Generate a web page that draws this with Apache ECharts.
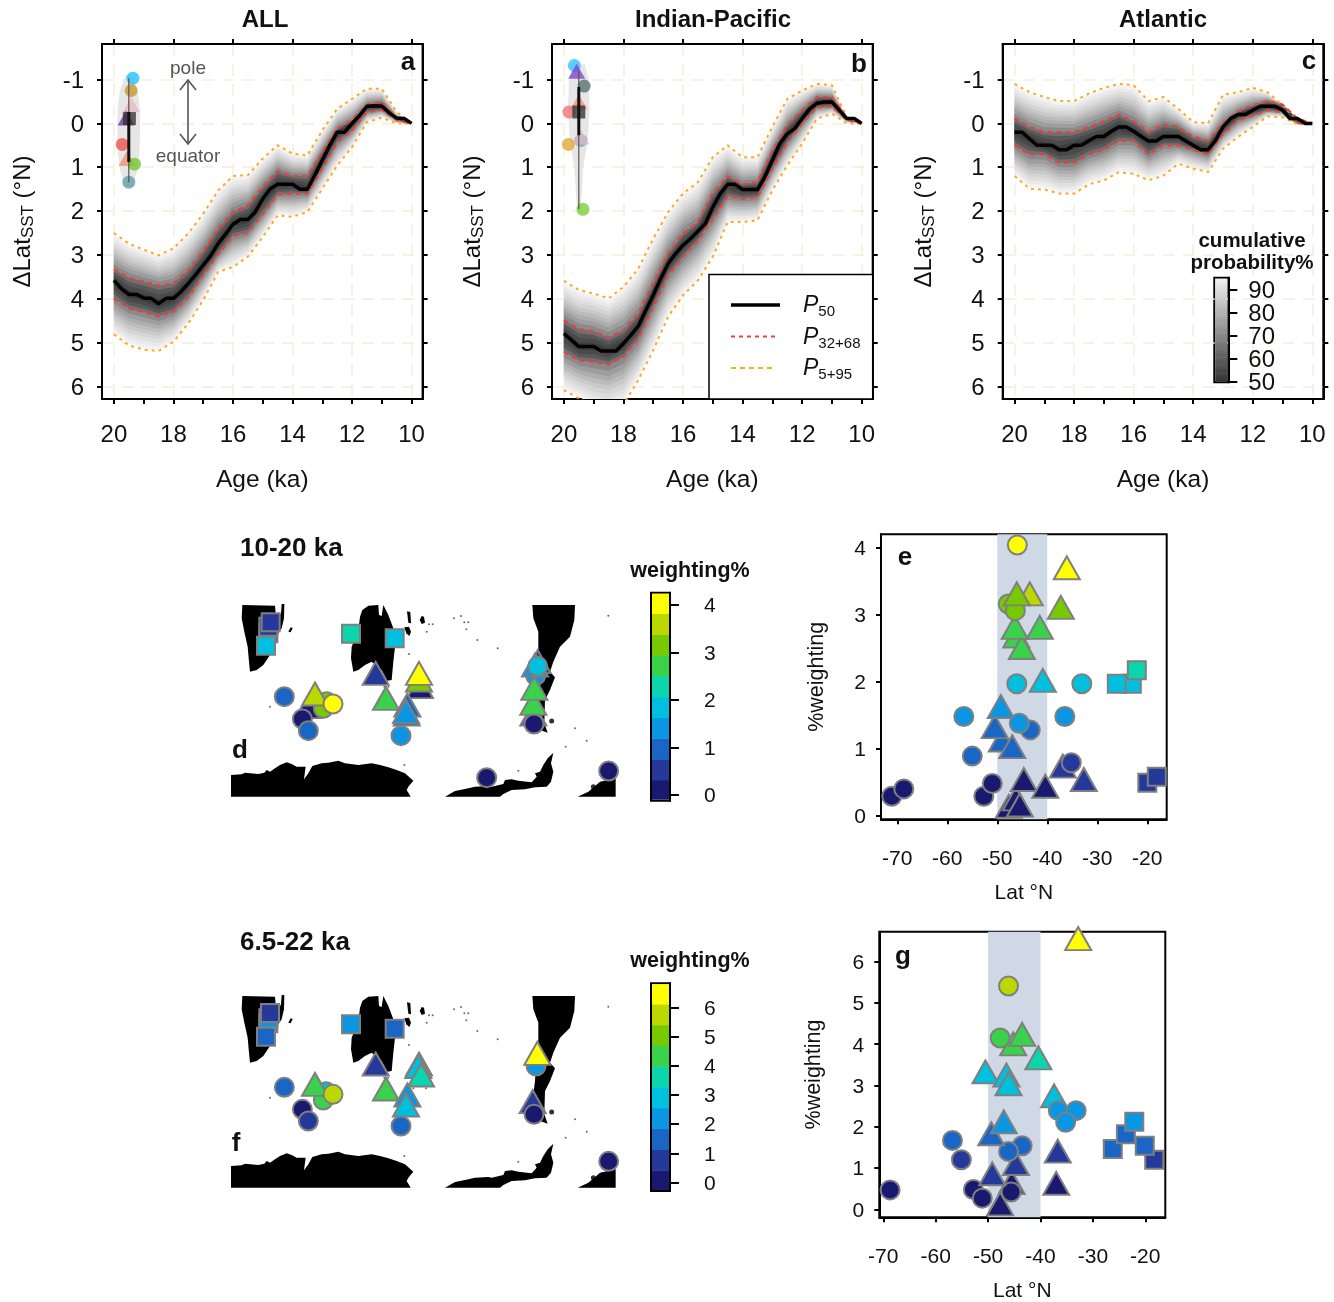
<!DOCTYPE html>
<html>
<head>
<meta charset="utf-8">
<style>
  html, body { margin: 0; padding: 0; background: #fff; }
  #chart { width: 1334px; height: 1302px; }
</style>
<script src="https://cdn.jsdelivr.net/npm/echarts@6/dist/echarts.min.js"></script>
</head>
<body>
<div id="chart"></div>
<script>
const FONT = '"Liberation Sans", Arial, sans-serif';
const INK = '#111';

const agesMedian = [20,19.75,19.5,19.25,19,18.75,18.5,18.25,18,17.75,17.5,17.25,17,16.75,16.5,16.25,16,15.75,15.5,15.25,15,14.75,14.5,14.25,14,13.75,13.5,13.25,13,12.75,12.5,12.25,12,11.75,11.5,11.25,11,10.75,10.5,10.25,10];
const agesBand = [20,19.5,19,18.5,18,17.5,17,16.5,16,15.5,15,14.5,14,13.5,13,12.5,12,11.5,11,10.5,10];

// panel a (ALL)
const aP50 = [3.58,3.77,3.9,3.9,3.98,3.99,4.11,3.99,3.99,3.84,3.65,3.45,3.23,3.02,2.74,2.53,2.3,2.19,2.19,2.02,1.72,1.49,1.39,1.39,1.39,1.5,1.5,1.18,0.84,0.5,0.2,0.2,0,-0.18,-0.39,-0.4,-0.39,-0.24,-0.12,-0.11,0];
const aP68 = [3.33,3.52,3.61,3.7,3.65,3.35,2.91,2.4,2.02,1.87,1.45,1.09,1.2,1.2,0.65,0.12,-0.07,-0.43,-0.49,-0.13,0];
const aP32 = [3.99,4.22,4.3,4.4,4.3,3.96,3.46,2.98,2.57,2.49,2.06,1.62,1.6,1.6,1.03,0.43,0.16,-0.26,-0.31,-0.07,0];
const aP95 = [2.5,2.74,2.88,3.01,2.85,2.51,2.06,1.53,1.2,1.18,0.8,0.5,0.69,0.73,0.16,-0.33,-0.56,-0.79,-0.79,-0.26,0];
const aP5 = [4.81,5.06,5.16,5.19,4.98,4.56,4.03,3.39,3.27,3.04,2.59,2.1,2.13,2.02,1.49,0.96,0.54,-0.03,-0.13,0,0];

// panel b (Indian-Pacific)
const bP50 = [4.79,4.94,5.09,5.09,5.09,5.19,5.19,5.19,5.02,4.83,4.62,4.26,3.92,3.54,3.2,2.97,2.78,2.63,2.46,2.29,1.91,1.6,1.39,1.39,1.51,1.51,1.51,1.22,0.84,0.46,0.24,0.12,-0.11,-0.33,-0.46,-0.49,-0.49,-0.3,-0.11,-0.11,0];
const bP68 = [4.49,4.69,4.74,4.88,4.72,4.34,3.65,2.97,2.51,2.25,1.6,1.21,1.39,1.34,0.62,0.05,-0.3,-0.6,-0.6,-0.13,0];
const bP32 = [5.21,5.4,5.44,5.5,5.32,4.91,4.18,3.46,3.04,2.67,2.17,1.66,1.72,1.68,1.03,0.43,0,-0.37,-0.39,-0.08,0];
const bP95 = [3.59,3.8,3.88,3.99,3.73,3.31,2.63,2.02,1.6,1.34,0.77,0.5,0.77,0.77,0.08,-0.56,-0.75,-0.9,-0.87,-0.14,0];
const bP5 = [6.08,6.27,6.46,6.54,6.42,5.85,5.17,4.41,3.92,3.58,3.04,2.25,2.25,2.21,1.53,0.96,0.46,-0.11,-0.22,0,0];

// panel c (Atlantic)
const cP50 = [0.2,0.2,0.35,0.5,0.5,0.5,0.6,0.6,0.5,0.5,0.39,0.3,0.3,0.18,0.08,0.08,0.18,0.3,0.4,0.4,0.3,0.3,0.3,0.4,0.5,0.6,0.6,0.39,0.08,-0.11,-0.2,-0.2,-0.3,-0.39,-0.39,-0.39,-0.3,-0.11,-0.11,0,0];
const cP68 = [-0.11,0.08,0.2,0.2,0.2,0.08,-0.05,-0.2,-0.05,0.2,0.02,0.08,0.31,0.4,0,-0.27,-0.41,-0.51,-0.43,-0.11,0];
const cP32 = [0.5,0.71,0.71,0.9,0.9,0.71,0.6,0.4,0.4,0.71,0.5,0.5,0.6,0.71,0.24,-0.07,-0.18,-0.3,-0.26,0,0];
const cP95 = [-0.9,-0.71,-0.6,-0.51,-0.51,-0.68,-0.81,-0.9,-0.87,-0.51,-0.6,-0.33,-0.03,0,-0.65,-0.71,-0.81,-0.71,-0.41,-0.08,0];
const cP5 = [1.2,1.49,1.51,1.6,1.6,1.39,1.3,1.11,1.15,1.3,1.19,0.92,1.03,1.11,0.58,0.31,0.08,-0.16,-0.14,0.02,0];

const ageTicks = [20,19,18,17,16,15,14,13,12,11,10];
const ageLabels = [20,18,16,14,12,10];
const latTicks = [-1,0,1,2,3,4,5,6];

// fan shading between the curves above
const fanMix = [0.02,0.07,0.12,0.17,0.22,0.27,0.32,0.37,0.43,0.5,0.62,0.75,0.88];
const fanShade = ['#f2f2f2','#e9e9e9','#dfdfdf','#d5d5d5','#c9c9c9','#bcbcbc','#aeaeae','#9e9e9e','#8a8a8a','#707070','#585858','#4a4a4a','#3e3e3e'];

// box plots top left of panels a and b
const aDotX = [19.5,19.36,19.42,19.42,19.59,19.48,19.72,19.56,19.31];
const aDotY = [1.34,-1.03,-0.75,-0.43,-0.12,-0.11,0.48,0.8,0.93];
const aDotShape = ['c','c','c','t','t','s','c','t','c'];
const aDotColor = ['#5f9ea8','#1ec0ff','#c8962a','#e8b8c4','#6a30b0','#333333','#f05050','#f09070','#70c830'];
const aViolinY = [-1.1,-0.75,-0.3,0.2,0.7,1.1,1.45];
const aViolinHalf = [0.1,0.3,0.38,0.38,0.36,0.28,0.12];
const aWhisker = [-1.03,1.34];
const aBox = [-0.26,0.88];

const bDotX = [19.65,19.57,19.32,19.5,19.83,19.5,19.43,19.43,19.85,19.36];
const bDotY = [-1.32,-1.19,-0.85,-0.49,-0.26,-0.26,0.39,0.31,0.48,1.96];
const bDotShape = ['c','t','c','t','c','s','c','t','c','c'];
const bDotColor = ['#30c0ff','#8040d0','#507070','#f09070','#f07078','#333333','#70a8b8','#e0b8c8','#e0a830','#78d030'];
const bViolinY = [-1.35,-1,-0.3,0.4,1,1.95];
const bViolinHalf = [0.2,0.33,0.36,0.3,0.15,0.06];
const bWhisker = [-1.2,1.96];
const bBox = [-0.83,0.27];

// weighting colours
const palette = ['#19196f','#25399a','#1a66c4','#0a96e2','#00c0e0','#0cd4ac','#3ad24a','#78ca00','#bcd800','#ffff00'];

// panel e, drawn in this order
const eLat = [-71.1,-68.7,-52.7,-51,-32.7,-36.9,-35.2,-47.7,-46.3,-45.5,-44.7,-40.4,-20,-18.1,-49.1,-55,-43.4,-47,-50.5,-56.7,-36.5,-49.3,-45.6,-23.1,-26.1,-46.1,-33.1,-40.9,-22.1,-46.2,-45.1,-46.5,-41.5,-43.5,-47.8,-46.4,-37.3,-46.1,-36.1,-46];
const eWeight = [0.29,0.4,0.29,0.48,0.54,0.74,0.79,0.14,0.25,0.16,0.54,0.44,0.49,0.58,1.13,0.89,1.28,1.03,1.33,1.48,1.48,1.63,1.38,1.97,1.97,1.97,1.97,2.02,2.17,2.68,2.51,2.81,2.81,3.31,3.16,3.06,3.11,3.31,3.7,4.04];
const eShape = ['c','c','c','c','t','t','c','t','t','t','t','t','s','s','t','c','c','t','t','c','c','t','c','s','s','c','c','t','s','t','t','t','t','t','c','c','t','t','t','c'];
const eLevel = [0,0,0,0,1,1,1,0,0,0,0,0,1,1,2,2,2,2,2,3,3,3,3,4,4,4,4,4,5,6,6,6,6,8,7,7,7,7,9,9];

// panel g, drawn in this order
const gLat = [-68.7,-37,-45.5,-47.7,-52.8,-51.1,-45.6,-49.2,-55.1,-18.3,-36.7,-44.7,-56.8,-43.5,-46.1,-26.2,-23.7,-20.1,-49.4,-47,-22.1,-37.4,-36.6,-33.2,-35.2,-50.5,-46.5,-46.1,-40.4,-45.2,-47.7,-43.5,-46.1,-32.8];
const gWeight = [0.47,0.63,0.65,0.13,0.48,0.27,0.42,0.86,1.2,1.2,1.41,1.11,1.67,1.54,1.4,1.46,1.82,1.54,1.83,2.12,2.12,2.75,2.39,2.39,2.11,3.33,3.25,3.04,3.67,4.01,4.15,4.24,5.41,6.56];
const gShape = ['c','t','t','t','c','c','c','t','c','s','t','t','c','c','c','s','s','s','t','t','s','t','c','c','c','t','t','t','t','t','c','t','c','t'];
const gLevel = [0,0,0,0,0,0,0,1,1,1,1,1,2,2,2,2,2,2,2,3,3,4,3,3,3,4,4,4,5,6,6,6,8,9];

// map sites, in map units
const dSiteX = [130,130,137,123,378,509,178,250,305,295,270,232,250,324,452,483,585,582,582,547,545,543,528,938,932,930,938,925,925,928,927,785,1151];
const dSiteY = [130,110,97,167,131,145,320,350,335,355,312,387,422,342,250,325,290,270,250,345,372,365,437,215,257,225,229,372,340,295,402,563,543];
const dSiteShape = ['s','s','s','s','s','s','c','t','c','c','t','c','c','c','t','t','t','t','t','t','t','t','c','t','c','t','c','t','t','t','c','c','c'];
const dSiteLevel = [1,1,1,4,5,4,2,0,7,7,8,0,2,9,1,6,0,7,9,2,2,3,3,1,3,3,4,2,6,6,0,0,0];

const fSiteX = [130,130,135,123,378,509,178,303,295,270,232,250,324,452,483,582,580,588,547,543,528,933,937,923,927,1151];
const fSiteY = [127,112,96,167,130,143,319,332,357,310,385,420,340,249,324,249,257,282,342,372,435,255,217,362,400,541];
const fSiteShape = ['s','s','s','s','s','s','c','c','c','t','c','c','c','t','t','t','t','t','t','t','c','c','t','t','c','c'];
const fSiteLevel = [3,3,1,2,3,2,2,4,6,6,0,1,8,1,6,4,4,5,3,4,2,3,9,1,0,0];

// land outlines, in map units
const landWest = [[52,45],[150,47],[152,70],[160,85],[168,70],[170,42],[178,42],[177,85],[170,115],[160,130],[150,165],[135,195],[115,225],[95,240],[75,245],[72,215],[68,170],[58,125],[50,85]];
const landCentre = [[405,80],[412,60],[430,47],[460,45],[462,75],[470,78],[475,45],[490,75],[505,115],[510,170],[505,215],[500,270],[487,272],[470,240],[440,215],[420,225],[400,240],[385,245],[378,205],[380,170],[400,120]];
const landEast = [[922,45],[1050,45],[1048,90],[1035,140],[1005,170],[985,215],[975,245],[990,262],[975,300],[960,330],[958,400],[968,428],[945,420],[930,400],[925,340],[930,300],[935,220],[940,180],[940,125],[925,85]];
const landSouthWest = [[18,555],[50,553],[60,548],[100,552],[118,548],[125,540],[135,545],[150,535],[165,525],[185,517],[200,522],[215,530],[242,530],[237,568],[250,550],[262,528],[290,520],[310,518],[340,512],[360,520],[400,525],[440,520],[465,525],[490,532],[515,540],[540,550],[565,572],[550,590],[545,600],[557,620],[18,620]];
const landSouthMid = [[660,620],[690,603],[720,597],[750,590],[790,588],[800,590],[835,582],[840,570],[860,568],[880,572],[920,577],[935,560],[930,550],[945,545],[955,525],[968,505],[985,488],[978,520],[985,545],[978,575],[965,590],[930,592],[900,598],[860,600],[835,612],[825,620]];
const landSouthEast = [[1058,620],[1090,605],[1125,575],[1172,565],[1172,620]];
const islandA = [[546,64],[556,66],[558,100],[550,98]];
const islandB = [[538,112],[552,110],[558,125],[553,138],[544,130]];
const islandC = [[584,90],[590,78],[597,80],[600,98],[590,102]];
const islandD = [[190,125],[197,112],[203,114],[197,127]];
const landOutlines = [landWest, landCentre, landEast, landSouthWest, landSouthMid, landSouthEast, islandA, islandB, islandC, islandD];
const landBlobs = [[980,393],[1105,590]];
const landDots = [[552,192],[605,125],[687,85],[708,78],[718,97],[730,97],[724,118],[757,150],[818,175],[1150,77],[135,350],[478,290],[490,290],[565,322],[603,322],[1050,415],[1085,452],[1022,470],[880,542],[538,525],[612,103],[623,103]];

const dBarTicks = [0,1,2,3,4];
const dBarRange = [-0.12,4.26];
const fBarTicks = [0,1,2,3,4,5,6];
const fBarRange = [-0.29,6.83];
// two sets on two axes, one axis drops every other label when they are this tight
const probTicks = [50,70,90];
const probTicksBetween = [60,80];
const probRange = [49.7,95.3];

const eLatTicks = [-70,-60,-50,-40,-30,-20];
const eWeightTicks = [0,1,2,3,4];
const gWeightTicks = [0,1,2,3,4,5,6];
const bandLat = [-50,-40];

const grids = [];
const xAxes = [];
const yAxes = [];
const seriesList = [];

function addGrid(box, showFrame) {
  grids.push({
    left: box[0], top: box[1], width: box[2], height: box[3],
    show: !!showFrame, borderColor: '#000', borderWidth: 2, backgroundColor: 'transparent',
    containLabel: false, outerBoundsMode: 'none'
  });
  return grids.length - 1;
}

function hiddenAxis(gridIndex, min, max, inverse) {
  return { type: 'value', gridIndex, min, max, inverse: !!inverse, show: false, splitLine: { show: false } };
}

const tickLine = { show: true, length: 5, lineStyle: { color: '#000', width: 2 } };
const axisLine = { show: true, onZero: false, lineStyle: { color: '#000', width: 2 } };
const gridDash = { show: true, lineStyle: { color: '#f5f0dc', width: 1.5, type: [12, 8] } };

// y tick labels sit a little below their ticks in the reference
function yLabel(ticks, margin, fontSize) {
  return {
    customValues: ticks, margin, interval: 0, hideOverlap: false,
    showMinLabel: true, showMaxLabel: true,
    formatter: '{v|{value}}',
    rich: { v: { fontFamily: FONT, fontSize, color: INK, lineHeight: 16, padding: [3, 0, 0, 0] } }
  };
}

function renderFan(p5, p32, p50, p68, p95) {
  const edge = (mix, outer, inner, med) => mix <= 0.5
    ? outer + (inner - outer) * (mix / 0.5)
    : inner + (med - inner) * ((mix - 0.5) / 0.5);
  return function (params, api) {
    const mix = fanMix[params.dataIndex];
    const points = [];
    agesBand.forEach((age, i) => {
      points.push(api.coord([age, edge(mix, p95[i], p68[i], p50[i * 2])]));
    });
    for (let i = agesBand.length - 1; i >= 0; i--) {
      points.push(api.coord([agesBand[i], edge(mix, p5[i], p32[i], p50[i * 2])]));
    }
    return { type: 'polygon', shape: { points }, style: { fill: fanShade[params.dataIndex] } };
  };
}

function renderViolin(centre, ys, halves) {
  return function (params, api) {
    const points = [];
    ys.forEach((y, i) => points.push(api.coord([centre - halves[i], y])));
    for (let i = ys.length - 1; i >= 0; i--) points.push(api.coord([centre + halves[i], ys[i]]));
    return { type: 'polygon', shape: { points }, style: { fill: '#e6e6e6' } };
  };
}

const shapeOf = { c: 'circle', t: 'triangle', s: 'rect' };

function addFanPanel(box, panel) {
  const g = addGrid(box, true);
  const xMain = xAxes.length;
  xAxes.push({
    type: 'value', gridIndex: g, position: 'bottom', min: 9.63, max: 20.4, inverse: true,
    name: 'Age (ka)', nameLocation: 'middle', nameGap: 69,
    nameTextStyle: { fontFamily: FONT, fontSize: 24.5, color: INK },
    axisLine,
    axisTick: Object.assign({ customValues: ageTicks }, tickLine),
    axisLabel: { customValues: ageLabels, margin: 24, fontFamily: FONT, fontSize: 24, color: INK },
    splitLine: { show: false }
  });
  xAxes.push({
    type: 'value', gridIndex: g, position: 'top', min: 9.63, max: 20.4, inverse: true,
    axisLine,
    axisTick: Object.assign({ customValues: ageLabels }, tickLine),
    axisLabel: { show: false },
    splitLine: gridDash
  });
  const yMain = yAxes.length;
  yAxes.push({
    type: 'value', gridIndex: g, position: 'left', min: -1.81, max: 6.285, inverse: true,
    name: 'ΔLat{s|SST} (°N)', nameLocation: 'middle', nameGap: 65, nameRotate: 90,
    nameTextStyle: {
      fontFamily: FONT, fontSize: 24, color: INK,
      rich: { s: { fontFamily: FONT, fontSize: 17, color: INK, verticalAlign: 'bottom', padding: [10, 0, 0, 0] } }
    },
    axisLine,
    axisTick: Object.assign({ customValues: latTicks }, tickLine),
    axisLabel: yLabel(latTicks, 18, 24),
    splitLine: gridDash
  });
  yAxes.push({
    type: 'value', gridIndex: g, position: 'right', min: -1.81, max: 6.285, inverse: true,
    axisLine,
    axisTick: Object.assign({ customValues: latTicks }, tickLine),
    axisLabel: { show: false },
    splitLine: { show: false }
  });

  const onAxes = { xAxisIndex: xMain, yAxisIndex: yMain };
  const pairs = (xs, ys) => xs.map((x, i) => [x, ys[i]]);
  const curve = (xs, ys, color, width, type, z) => Object.assign({
    type: 'line', data: pairs(xs, ys), symbol: 'none', silent: true, z,
    lineStyle: { color, width, type, join: 'round' }, clip: true
  }, onAxes);

  seriesList.push(Object.assign({
    type: 'custom', clip: true, z: 2, silent: true,
    data: fanMix.map((m, i) => [i]),
    renderItem: renderFan(panel.p5, panel.p32, panel.p50, panel.p68, panel.p95)
  }, onAxes));
  seriesList.push(curve(agesBand, panel.p95, '#ffa826', 2, [3, 4], 3));
  seriesList.push(curve(agesBand, panel.p5, '#ffa826', 2, [3, 4], 3));
  seriesList.push(curve(agesBand, panel.p68, '#e8413c', 2.2, [5, 4], 4));
  seriesList.push(curve(agesBand, panel.p32, '#e8413c', 2.2, [5, 4], 4));
  seriesList.push(curve(agesMedian, panel.p50, '#000', 3.5, 'solid', 5));

  if (panel.dotX) {
    seriesList.push(Object.assign({
      type: 'custom', z: 6, silent: true, data: [[0]],
      renderItem: renderViolin(19.5, panel.violinY, panel.violinHalf)
    }, onAxes));
    seriesList.push(curve([19.5, 19.5], panel.whisker, '#555', 1.2, 'solid', 8));
    seriesList.push(curve([19.5, 19.5], panel.box, '#111', 3, 'solid', 8));
    seriesList.push(Object.assign({
      type: 'scatter', z: 7, silent: true,
      data: panel.dotX.map((x, i) => ({
        value: [x, panel.dotY[i]],
        symbol: shapeOf[panel.dotShape[i]],
        symbolSize: panel.dotShape[i] === 't' ? [17, 15] : 13,
        itemStyle: { color: panel.dotColor[i], opacity: 0.78 }
      }))
    }, onAxes));
  }
}

function addSymbolSeries(xs, ys, shapes, levels, xAxisIndex, yAxisIndex, extra) {
  seriesList.push(Object.assign({
    type: 'scatter', xAxisIndex, yAxisIndex, z: 5, silent: true, clip: false,
    data: xs.map((x, i) => ({
      value: [x, ys[i]],
      symbol: shapeOf[shapes[i]],
      symbolSize: shapes[i] === 't' ? [26, 23] : shapes[i] === 's' ? 18 : 19,
      itemStyle: { color: palette[levels[i]], borderColor: '#7f7f7f', borderWidth: 2, opacity: 1 }
    })),
    animation: false
  }, extra || {}));
}

function addScatterPanel(box, range, ticksY, nameGap, lat, weight, shape, level) {
  const g = addGrid(box, true);
  const xi = xAxes.length;
  xAxes.push({
    type: 'value', gridIndex: g, position: 'bottom', min: range[0], max: range[1],
    name: 'Lat °N', nameLocation: 'middle', nameGap: 63,
    nameTextStyle: { fontFamily: FONT, fontSize: 21, color: INK },
    axisLine, axisTick: Object.assign({ customValues: eLatTicks }, tickLine),
    axisLabel: { customValues: eLatTicks, margin: 29, fontFamily: FONT, fontSize: 21, color: INK },
    splitLine: { show: false }
  });
  const yi = yAxes.length;
  yAxes.push({
    type: 'value', gridIndex: g, position: 'left', min: range[2], max: range[3],
    name: '%weighting', nameLocation: 'middle', nameGap, nameRotate: 90,
    nameTextStyle: { fontFamily: FONT, fontSize: 21.5, color: INK },
    axisLine, axisTick: Object.assign({ customValues: ticksY }, tickLine),
    axisLabel: yLabel(ticksY, 15, 21),
    splitLine: { show: false }
  });
  addSymbolSeries(lat, weight, shape, level, xi, yi, {
    markArea: {
      silent: true, itemStyle: { color: '#cfd9e6' },
      data: [[{ xAxis: bandLat[0] }, { xAxis: bandLat[1] }]]
    }
  });
}

function addMap(box, siteX, siteY, shape, level) {
  const g = addGrid(box, false);
  const xi = xAxes.length;
  xAxes.push(hiddenAxis(g, 0, 1200, false));
  const yi = yAxes.length;
  yAxes.push(hiddenAxis(g, 0, 645, true));
  seriesList.push({
    type: 'custom', xAxisIndex: xi, yAxisIndex: yi, z: 2, silent: true, clip: false,
    data: landOutlines.map((o, i) => [i]),
    renderItem(params, api) {
      const points = landOutlines[params.dataIndex].map(p => api.coord(p));
      return { type: 'polygon', shape: { points }, style: { fill: '#000' } };
    }
  });
  seriesList.push({
    type: 'scatter', xAxisIndex: xi, yAxisIndex: yi, z: 3, silent: true,
    data: landBlobs, symbolSize: 5, itemStyle: { color: '#000' }
  });
  seriesList.push({
    type: 'scatter', xAxisIndex: xi, yAxisIndex: yi, z: 3, silent: true,
    data: landDots, symbolSize: 2, itemStyle: { color: '#444' }
  });
  addSymbolSeries(siteX, siteY, shape, level, xi, yi);
}

function barAxis(gridIndex, range, ticks, margin, fontSize) {
  return {
    type: 'value', gridIndex, position: 'right', min: range[0], max: range[1],
    axisLine,
    axisTick: { show: true, customValues: ticks, length: 9, lineStyle: { color: '#000', width: 2 } },
    axisLabel: yLabel(ticks, margin, fontSize),
    splitLine: { show: false }
  };
}

function addColorBar(box, range, ticks, margin, fontSize, fills, moreTicks) {
  const g = addGrid(box, true);
  const xi = xAxes.length;
  xAxes.push(hiddenAxis(g, 0, 1, false));
  const yi = yAxes.length;
  yAxes.push(barAxis(g, range, ticks, margin, fontSize));
  if (moreTicks) yAxes.push(barAxis(g, range, moreTicks, margin, fontSize));
  const step = (range[1] - range[0]) / fills.length;
  seriesList.push({
    type: 'custom', xAxisIndex: xi, yAxisIndex: yi, z: 2, silent: true,
    data: fills.map((f, i) => [i]),
    renderItem(params, api) {
      const i = params.dataIndex;
      const a = api.coord([0, range[0] + step * (i + 1)]);
      const b = api.coord([1, range[0] + step * i]);
      // stay inside the black frame
      const top = i === fills.length - 1 ? a[1] + 1 : a[1];
      const bottom = i === 0 ? b[1] - 1 : b[1] + 0.5;
      return {
        type: 'rect',
        shape: { x: a[0] + 1, y: top, width: b[0] - a[0] - 2, height: bottom - top },
        style: { fill: fills[i] }
      };
    }
  });
}

addFanPanel([102, 44, 320.6, 355], { p5: aP5, p32: aP32, p50: aP50, p68: aP68, p95: aP95,
  dotX: aDotX, dotY: aDotY, dotShape: aDotShape, dotColor: aDotColor,
  violinY: aViolinY, violinHalf: aViolinHalf, whisker: aWhisker, box: aBox });
addFanPanel([552, 44, 320.7, 355], { p5: bP5, p32: bP32, p50: bP50, p68: bP68, p95: bP95,
  dotX: bDotX, dotY: bDotY, dotShape: bDotShape, dotColor: bDotColor,
  violinY: bViolinY, violinHalf: bViolinHalf, whisker: bWhisker, box: bBox });
addFanPanel([1002.7, 44, 320.6, 355], { p5: cP5, p32: cP32, p50: cP50, p68: cP68, p95: cP95 });

addMap([225, 590, 400, 215], dSiteX, dSiteY, dSiteShape, dSiteLevel);
addMap([225, 981, 400, 215], fSiteX, fSiteY, fSiteShape, fSiteLevel);

addScatterPanel([881, 534.3, 285.7, 285], [-73.26, -16.12, -0.054, 4.2], eWeightTicks, 53, eLat, eWeight, eShape, eLevel);
addScatterPanel([879.3, 931.7, 286, 285.6], [-70.76, -16.18, -0.194, 6.727], gWeightTicks, 54, gLat, gWeight, gShape, gLevel);

addColorBar([651, 592.7, 19, 208], dBarRange, dBarTicks, 34, 21, palette);
addColorBar([651, 983.3, 19, 207.7], fBarRange, fBarTicks, 34, 21, palette);

const probFills = [];
for (let i = 0; i < 46; i++) {
  const v = Math.round(0x33 + (0xf0 - 0x33) * i / 45).toString(16);
  probFills.push('#' + v + v + v);
}
addColorBar([1214.3, 277.7, 14, 104.6], probRange, probTicks, 20, 24, probFills, probTicksBetween);

function label(x, y, text, opts) {
  return {
    type: 'text', x, y: y + 1.5, z: 50, silent: true,
    style: Object.assign({
      text, fontFamily: FONT, fontSize: 24, fill: INK,
      align: 'center', verticalAlign: 'middle'
    }, opts || {})
  };
}

function subLabel(x, y, sub) {
  return {
    type: 'text', x, y, z: 50, silent: true,
    style: {
      text: '{i|P}{s|' + sub + '}', align: 'left', verticalAlign: 'middle', fontFamily: FONT,
      rich: {
        i: { fontFamily: FONT, fontStyle: 'italic', fontSize: 23, fill: INK, lineHeight: 28 },
        s: { fontFamily: FONT, fontSize: 15, fill: INK, lineHeight: 28, verticalAlign: 'bottom', padding: [8, 0, 0, 0] }
      }
    }
  };
}

const greyLine = { stroke: '#555', lineWidth: 1.6 };
const graphics = [
  label(265, 19, 'ALL', { fontWeight: 'bold' }),
  label(713, 19, 'Indian-Pacific', { fontWeight: 'bold' }),
  label(1163, 19, 'Atlantic', { fontWeight: 'bold' }),
  label(408, 61, 'a', { fontWeight: 'bold', fontSize: 26 }),
  label(859, 63, 'b', { fontWeight: 'bold', fontSize: 26 }),
  label(1309, 60, 'c', { fontWeight: 'bold', fontSize: 26 }),
  label(188, 67, 'pole', { fontSize: 19, fill: '#555' }),
  label(188, 155, 'equator', { fontSize: 19, fill: '#555' }),
  { type: 'line', z: 50, silent: true, shape: { x1: 188, y1: 80, x2: 188, y2: 144 }, style: greyLine },
  { type: 'polyline', z: 50, silent: true, shape: { points: [[180, 90], [188, 80], [196, 90]] }, style: Object.assign({ fill: 'none' }, greyLine) },
  { type: 'polyline', z: 50, silent: true, shape: { points: [[180, 134], [188, 144], [196, 134]] }, style: Object.assign({ fill: 'none' }, greyLine) },
  { type: 'rect', z: 40, silent: true, shape: { x: 709, y: 274.5, width: 163.7, height: 124.5 }, style: { fill: '#fff', stroke: '#000', lineWidth: 1.5 } },
  { type: 'line', z: 50, silent: true, shape: { x1: 731, y1: 305, x2: 780, y2: 305 }, style: { stroke: '#000', lineWidth: 3.5 } },
  { type: 'line', z: 50, silent: true, shape: { x1: 731, y1: 336.5, x2: 775, y2: 336.5 }, style: { stroke: '#e8413c', lineWidth: 2, lineDash: [4, 4] } },
  { type: 'line', z: 50, silent: true, shape: { x1: 731, y1: 368, x2: 775, y2: 368 }, style: { stroke: '#ffa826', lineWidth: 2, lineDash: [5, 4] } },
  subLabel(803, 305.5, '50'),
  subLabel(803, 337.5, '32+68'),
  subLabel(803, 368.5, '5+95'),
  label(1252, 240, 'cumulative', { fontWeight: 'bold', fontSize: 20.5 }),
  label(1252, 262, 'probability%', { fontWeight: 'bold', fontSize: 20.5 }),
  label(240, 547, '10-20 ka', { fontWeight: 'bold', fontSize: 26, align: 'left' }),
  label(240, 941, '6.5-22 ka', { fontWeight: 'bold', fontSize: 26, align: 'left' }),
  label(240, 749, 'd', { fontWeight: 'bold', fontSize: 26 }),
  label(236, 1142, 'f', { fontWeight: 'bold', fontSize: 26 }),
  label(690, 570, 'weighting%', { fontWeight: 'bold', fontSize: 21.5 }),
  label(690, 960, 'weighting%', { fontWeight: 'bold', fontSize: 21.5 }),
  label(905, 556, 'e', { fontWeight: 'bold', fontSize: 26 }),
  label(903, 955, 'g', { fontWeight: 'bold', fontSize: 26 })
];

const chart = echarts.init(document.getElementById('chart'), null, { renderer: 'canvas' });
chart.setOption({
  animation: false,
  backgroundColor: '#fff',
  textStyle: { fontFamily: FONT },
  grid: grids,
  xAxis: xAxes,
  yAxis: yAxes,
  series: seriesList,
  graphic: graphics
});
</script>
</body>
</html>
